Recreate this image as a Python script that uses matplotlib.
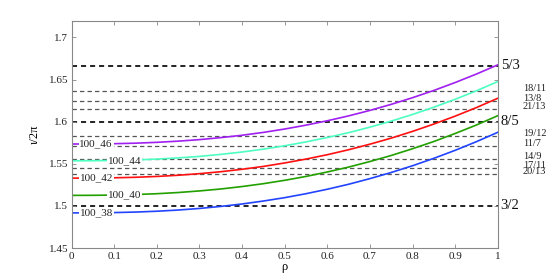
import matplotlib
matplotlib.use("Agg")
import matplotlib.pyplot as plt
from matplotlib.ticker import FormatStrFormatter

plt.rcParams['font.family'] = ['Liberation Serif', 'DejaVu Serif']

rho = [0.0, 0.05, 0.1, 0.15, 0.2, 0.25, 0.3, 0.35, 0.4, 0.45, 0.5,
       0.55, 0.6, 0.65, 0.7, 0.75, 0.8, 0.85, 0.9, 0.95, 1.0]

iota_38 = [1.4917, 1.4918, 1.4921, 1.4927, 1.4937, 1.4951, 1.4970, 1.4994, 1.5023, 1.5058, 1.5098,
           1.5145, 1.5198, 1.5257, 1.5324, 1.5397, 1.5477, 1.5565, 1.5660, 1.5763, 1.5874]
iota_40 = [1.5125, 1.5126, 1.5129, 1.5135, 1.5145, 1.5159, 1.5178, 1.5201, 1.5230, 1.5264, 1.5304,
           1.5350, 1.5403, 1.5461, 1.5527, 1.5599, 1.5679, 1.5765, 1.5860, 1.5961, 1.6071]
iota_42 = [1.5330, 1.5331, 1.5334, 1.5340, 1.5350, 1.5364, 1.5383, 1.5406, 1.5435, 1.5469, 1.5510,
           1.5556, 1.5608, 1.5667, 1.5733, 1.5805, 1.5885, 1.5972, 1.6066, 1.6168, 1.6278]
iota_44 = [1.5536, 1.5537, 1.5540, 1.5546, 1.5556, 1.5570, 1.5588, 1.5612, 1.5640, 1.5674, 1.5714,
           1.5760, 1.5812, 1.5870, 1.5935, 1.6007, 1.6086, 1.6172, 1.6266, 1.6367, 1.6476]
iota_46 = [1.5735, 1.5736, 1.5739, 1.5745, 1.5755, 1.5769, 1.5787, 1.5811, 1.5839, 1.5873, 1.5913,
           1.5959, 1.6011, 1.6069, 1.6134, 1.6206, 1.6285, 1.6371, 1.6465, 1.6566, 1.6675]

curve_names = ['100_38', '100_40', '100_42', '100_44', '100_46']
curve_colors = ['#2244ff', '#22a000', '#ff1010', '#4dffc0', '#a020f0']
label_rho = [0.058, 0.125, 0.058, 0.125, 0.058]

# rational surfaces
major_num = [5, 8, 3]
major_den = [3, 5, 2]
minor_num = [18, 13, 21, 19, 11, 14, 17, 20]
minor_den = [11, 8, 13, 12, 7, 9, 11, 13]

fig = plt.figure(figsize=(5.5, 2.79), dpi=100)
ax = fig.add_axes([0.130, 0.111, 0.775, 0.815])

for n, d in zip(minor_num, minor_den):
    ax.plot([0, 1], [n / d, n / d], color='#555555', lw=0.9, dashes=(3.5, 2.5), zorder=1)
    ax.text(1.059, n / d, f'{n}/{d}', fontsize=7.5, va='baseline', ha='left',
            color='#222222', clip_on=False)
for n, d in zip(major_num, major_den):
    ax.plot([0, 1], [n / d, n / d], color='#111111', lw=1.3, dashes=(2.8, 2.2), zorder=1)
    ax.text(1.007, n / d, f'{n}/{d}', fontsize=10.5, va='center', ha='left',
            color='#111111', clip_on=False)

series = [iota_38, iota_40, iota_42, iota_44, iota_46]
for vals, name, col, lr in zip(series, curve_names, curve_colors, label_rho):
    ax.plot(rho, vals, color=col, lw=1.2, zorder=2)
    yl = vals[round(lr / 0.05)]
    ax.text(lr, yl, name, fontsize=8, ha='center', va='center', color='#222222', zorder=3,
            bbox=dict(facecolor='white', edgecolor='none', pad=0.6))

ax.set_xlim(0, 1)
ax.set_ylim(1.45, 1.72)
ax.set_xticks([0, 0.1, 0.2, 0.3, 0.4, 0.5, 0.6, 0.7, 0.8, 0.9, 1])
ax.set_yticks([1.45, 1.5, 1.55, 1.6, 1.65, 1.7])
ax.xaxis.set_major_formatter(FormatStrFormatter('%g'))
ax.yaxis.set_major_formatter(FormatStrFormatter('%g'))
ax.tick_params(direction='in', length=3, width=0.6, top=True, right=True,
               labelsize=8, colors='#888888', labelcolor='#222222', pad=2.5)
for s in ax.spines.values():
    s.set_color('#888888')
    s.set_linewidth(0.8)

ax.set_xlabel('ρ', fontsize=9, labelpad=0)
ax.set_ylabel('ι/2π', fontsize=9, labelpad=6)

fig.savefig('out.png', dpi=100)
